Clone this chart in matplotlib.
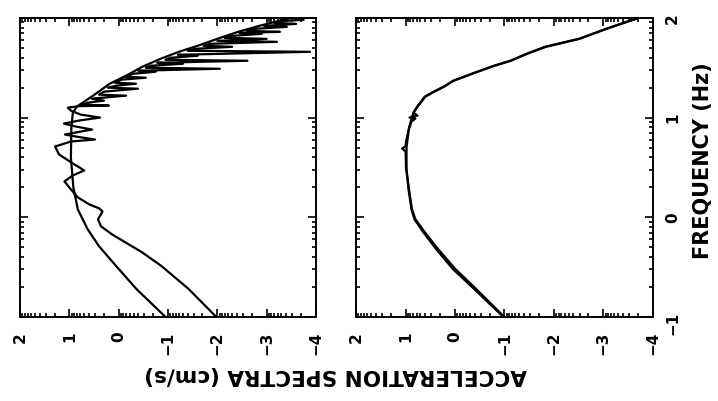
import numpy as np
import matplotlib.pyplot as plt
from matplotlib.ticker import LogLocator, FuncFormatter, NullFormatter

# Scanned figure is turned a quarter turn: frequency runs up the page,
# spectral level runs left (high) to right (low). All values are log10.

# upper original panel (left here): smooth model curve
model1_logf = [-1.00, -0.72, -0.49, -0.29, -0.12, 0.08, 0.30, 0.60, 0.90, 1.05,
               1.11, 1.22, 1.34, 1.42, 1.51, 1.59, 1.66, 1.72, 1.79, 1.86,
               1.92, 1.97, 2.00]
model1_logs = [-0.95, -0.36, 0.05, 0.40, 0.63, 0.83, 0.92, 0.97, 0.96, 0.93,
               0.85, 0.52, 0.18, -0.15, -0.48, -0.85, -1.22, -1.60, -2.00, -2.42,
               -2.85, -3.25, -3.50]

# upper original panel: observed spectrum (wiggles and dips)
data1_logf = [-1.00, -0.72, -0.49, -0.35, -0.25, -0.17, -0.09, -0.02, 0.03, 0.06,
              0.09, 0.13, 0.20, 0.28, 0.36, 0.42, 0.47, 0.54, 0.63, 0.71,
              0.76, 0.78, 0.81, 0.83, 0.86, 0.88, 0.91, 0.94, 0.97, 1.00,
              1.03, 1.07, 1.10, 1.115, 1.12, 1.13, 1.15, 1.17, 1.19, 1.22,
              1.23, 1.26, 1.29, 1.30, 1.32, 1.34, 1.35, 1.38, 1.40, 1.41,
              1.44, 1.46, 1.47, 1.49, 1.50, 1.52, 1.54, 1.55, 1.57, 1.58,
              1.60, 1.62, 1.63, 1.66, 1.67, 1.69, 1.71, 1.72, 1.74, 1.76,
              1.77, 1.79, 1.80, 1.82, 1.84, 1.85, 1.86, 1.87, 1.89, 1.91,
              1.92, 1.94, 1.95, 1.97, 1.98, 2.00]
data1_logs = [-1.98, -1.42, -0.87, -0.47, -0.13, 0.14, 0.36, 0.42, 0.36, 0.33,
              0.40, 0.60, 0.83, 0.97, 1.10, 0.93, 0.70, 0.93, 1.21, 1.29,
              0.97, 0.48, 0.87, 1.09, 0.77, 0.54, 0.87, 1.11, 0.81, 0.38,
              0.77, 0.97, 1.03, 0.80, 0.20, 0.75, 0.62, 0.30, 0.55, -0.15,
              0.40, 0.30, -0.39, 0.22, 0.05, -0.35, 0.08, -0.05, -0.55, -0.12,
              -0.30, -0.75, -0.40, -2.05, -0.55, -0.65, -1.30, -0.78, -2.61, -0.95,
              -1.05, -1.60, -1.20, -3.88, -1.40, -1.55, -2.30, -1.72, -1.85, -3.21,
              -2.00, -3.00, -2.15, -2.30, -2.90, -2.45, -3.27, -2.60, -2.75, -3.41,
              -2.95, -3.60, -3.15, -3.35, -3.75, -3.55]

# lower original panel (right here): observed and model, nearly on top of each other
data2_logf = [-1.00, -0.72, -0.52, -0.32, -0.15, -0.02, 0.08, 0.28, 0.49, 0.66,
              0.69, 0.71, 0.76, 0.87, 0.96, 0.99, 1.00, 1.02, 1.05, 1.12,
              1.21, 1.26, 1.31, 1.37, 1.46, 1.52, 1.57, 1.64, 1.71, 1.79,
              1.89, 1.96, 2.00]
data2_logs = [-1.00, -0.43, -0.01, 0.34, 0.61, 0.80, 0.87, 0.93, 0.99, 1.00,
              1.07, 1.00, 0.99, 0.94, 0.88, 0.80, 0.92, 0.76, 0.84, 0.74,
              0.60, 0.42, 0.22, 0.03, -0.46, -0.80, -1.13, -1.45, -1.82, -2.51,
              -3.06, -3.47, -3.72]
model2_logf = [-1.00, -0.72, -0.52, -0.32, -0.15, -0.02, 0.08, 0.28, 0.49, 0.70,
               0.90, 1.05, 1.12, 1.21, 1.26, 1.31, 1.37, 1.46, 1.52, 1.57,
               1.64, 1.71, 1.79, 1.89, 1.96, 2.00]
model2_logs = [-0.98, -0.39, 0.04, 0.38, 0.64, 0.82, 0.88, 0.94, 0.98, 0.98,
               0.93, 0.84, 0.75, 0.61, 0.43, 0.23, 0.03, -0.45, -0.79, -1.12,
               -1.46, -1.84, -2.52, -3.06, -3.48, -3.72]


def exp_label(v, pos):
    return str(int(round(np.log10(v)))).replace('-', '\u2212')


def style_axis(ax, show_freq_labels):
    ax.set_xscale('log')
    ax.set_yscale('log')
    ax.set_xlim(1e2, 1e-4)
    ax.set_ylim(1e-1, 1e2)
    ax.xaxis.set_major_locator(LogLocator(base=10, numticks=20))
    ax.xaxis.set_minor_locator(LogLocator(base=10, subs=np.arange(2, 10), numticks=20))
    ax.yaxis.set_major_locator(LogLocator(base=10, numticks=20))
    ax.yaxis.set_minor_locator(LogLocator(base=10, subs=np.arange(2, 10), numticks=20))
    ax.xaxis.set_major_formatter(FuncFormatter(exp_label))
    ax.yaxis.set_major_formatter(FuncFormatter(exp_label))
    ax.xaxis.set_minor_formatter(NullFormatter())
    ax.yaxis.set_minor_formatter(NullFormatter())
    ax.tick_params(which='both', direction='in', top=True, bottom=True,
                   left=True, right=True, width=1.2, color='black')
    ax.tick_params(which='major', length=6)
    ax.tick_params(which='minor', length=3)
    ax.tick_params(axis='x', labelrotation=90, labelsize=11, pad=10)
    ax.tick_params(axis='y', labelrotation=90, labelsize=11, pad=9,
                   labelleft=False, labelright=show_freq_labels)
    for lab in ax.get_xticklabels() + ax.get_yticklabels():
        lab.set_fontweight('bold')
    for sp in ax.spines.values():
        sp.set_linewidth(1.4)


fig = plt.figure(figsize=(7.18, 4.02), dpi=100)
ax1 = fig.add_axes([0.028, 0.209, 0.412, 0.744])
ax2 = fig.add_axes([0.496, 0.209, 0.413, 0.744])

ax1.plot(10 ** np.array(model1_logs), 10 ** np.array(model1_logf), color='black', lw=1.6)
ax1.plot(10 ** np.array(data1_logs), 10 ** np.array(data1_logf), color='black', lw=1.6)
ax2.plot(10 ** np.array(model2_logs), 10 ** np.array(model2_logf), color='black', lw=1.6)
ax2.plot(10 ** np.array(data2_logs), 10 ** np.array(data2_logf), color='black', lw=1.6)

style_axis(ax1, False)
style_axis(ax2, True)

fig.text(0.468, 0.067, 'ACCELERATION SPECTRA (cm/s)', rotation=180,
         ha='center', va='center', fontsize=15.5, fontweight='bold')
fig.text(0.979, 0.60, 'FREQUENCY (Hz)', rotation=90,
         ha='center', va='center', fontsize=15, fontweight='bold')

fig.savefig('out.png', dpi=100)
